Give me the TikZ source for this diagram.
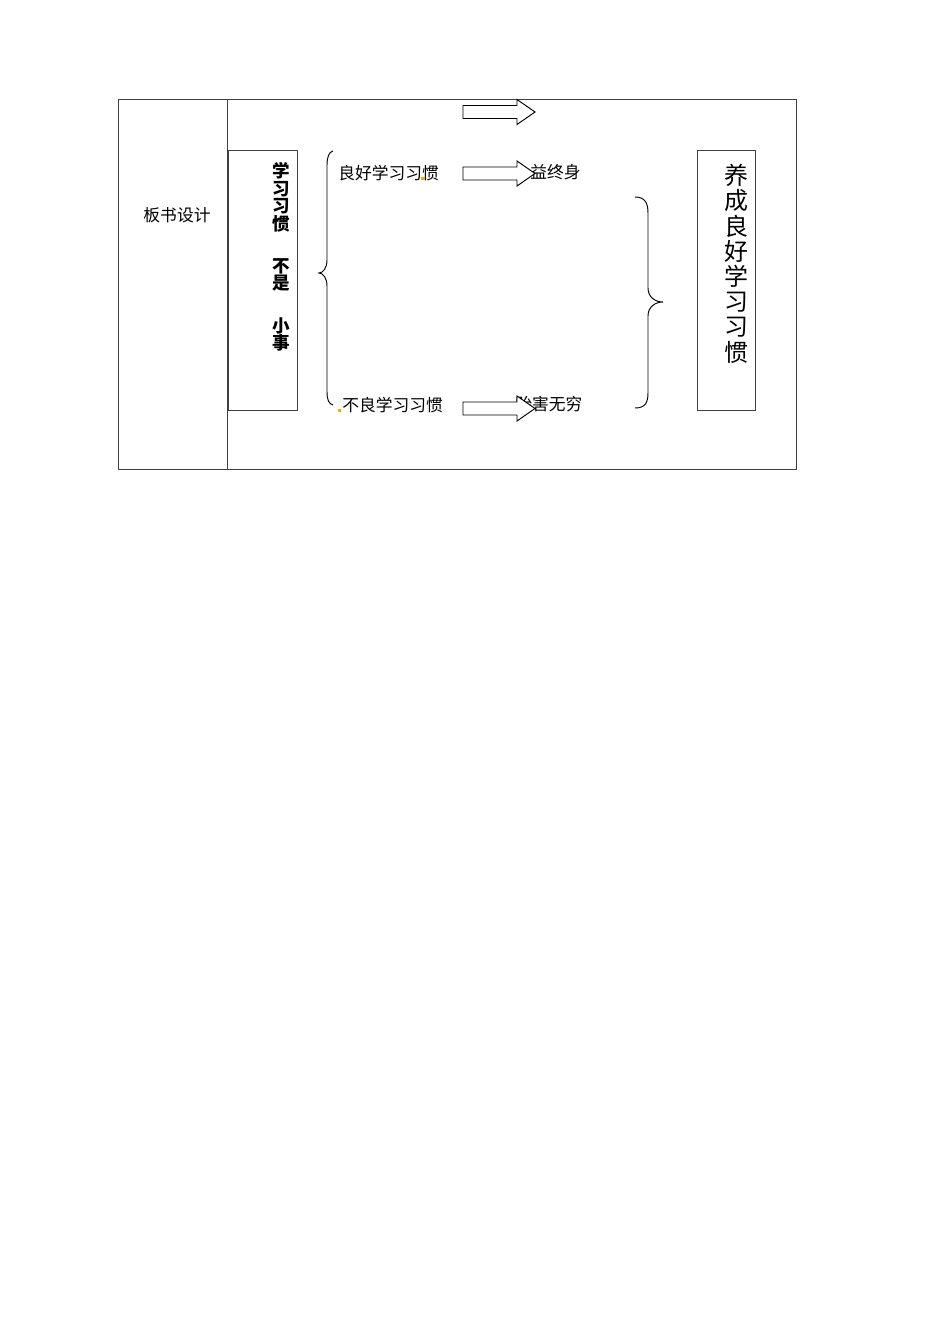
\documentclass[tikz,border=0pt]{standalone}
\usepackage{fontspec}
\usepackage{tikz}
\newfontfamily\cjk{Noto Sans CJK SC}
\tikzset{word/.style={inner sep=0,font=\cjk\fontsize{10.5}{12}\selectfont}}
\tikzset{frame/.style={draw=black!75,line width=0.6pt}}
\def\arrowat#1{\draw[line width=0.6pt,fill=white] (463,#1-6.5) -- (517,#1-6.5) -- (517,#1-12.5) -- (535,#1) -- (517,#1+12.5) -- (517,#1+6.5) -- (463,#1+6.5) -- cycle;}
\begin{document}
\begin{tikzpicture}[x=0.6264pt,y=-0.6264pt]
            \useasboundingbox (0,0) rectangle (950,1344);

            %表
            \draw[frame] (118,99) rectangle (796,469);
            \draw[frame] (227,99) -- (227,469);
            \node[word] (title) at (177,215) {板书设计};

            %四角形
            \draw[frame] (228,150) rectangle (297,410);
            \draw[frame] (697,150) rectangle (755,410);

            %ラベル
            \node[word, anchor=north, align=center, font=\cjk\bfseries\fontsize{11}{11}\selectfont] (theme) at (281,162) {学\\习\\习\\惯\\[15.4pt]不\\是\\[15.4pt]小\\事};
            \node[word, anchor=north, align=center, font=\cjk\fontsize{15}{15.8}\selectfont] (goal) at (736,164) {养\\成\\良\\好\\学\\习\\习\\惯};
            \node[word, anchor=west] (good) at (338,173) {良好学习习惯};
            \node[word, anchor=west] (bad) at (342,405) {不良学习习惯};
            \node[word, anchor=west] (gain) at (530,172) {益终身};
            \node[word, anchor=west] (harm) at (515,404) {贻害无穷};
            \fill[orange!70!yellow] (421,177) rectangle (425,180);
            \fill[orange!70!yellow] (338,409) rectangle (341,412);

            %括弧
            \draw[line width=0.6pt] (333,151) .. controls (329,152) and (327,157) .. (327,165) -- (327,260) .. controls (327,268) and (323,273) .. (319,273) .. controls (323,273) and (327,278) .. (327,286) -- (327,392) .. controls (327,400) and (329,404) .. (333,405);
            \draw[line width=0.6pt] (635,197) .. controls (645,197) and (648,203) .. (648,213) -- (648,288) .. controls (648,297) and (655,302) .. (663,302) .. controls (655,302) and (648,307) .. (648,316) -- (648,393) .. controls (648,403) and (645,408) .. (635,408);

            %矢印
            \arrowat{112}
            \arrowat{173.5}
            \arrowat{408.5}

          \end{tikzpicture}
\end{document}
